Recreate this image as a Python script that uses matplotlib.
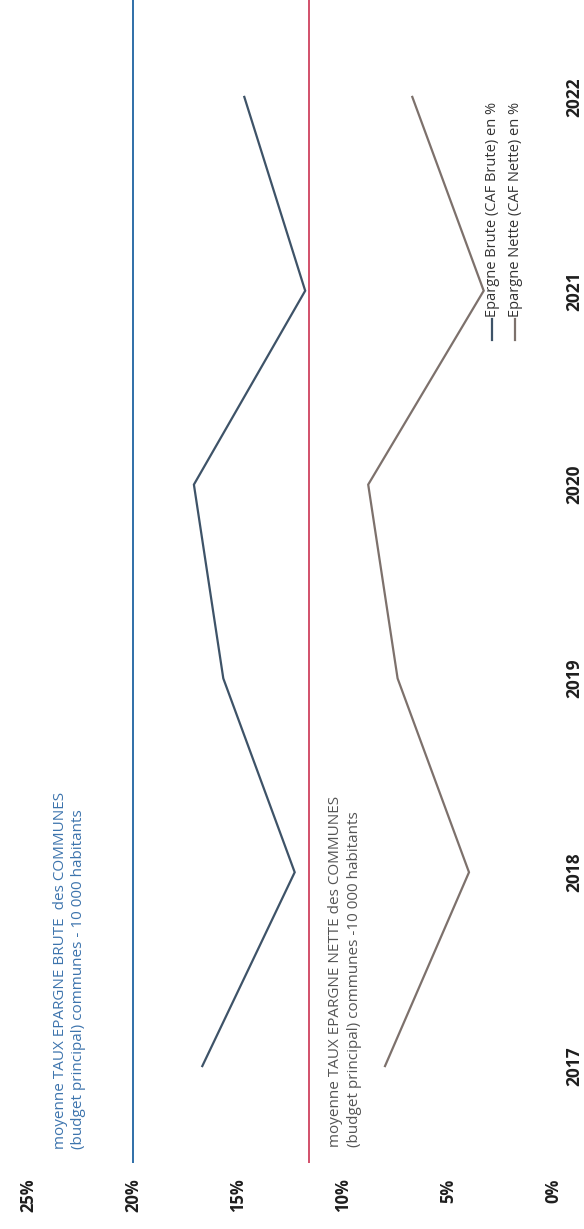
import matplotlib
matplotlib.use("Agg")
import matplotlib.pyplot as plt
from matplotlib.lines import Line2D

years = [2017, 2018, 2019, 2020, 2021, 2022]
epargne_brute = [16.7, 12.3, 15.7, 17.1, 11.8, 14.7]
epargne_nette = [8.0, 4.0, 7.4, 8.8, 3.3, 6.7]
moyenne_brute = 20.0
moyenne_nette = 11.6
value_ticks = [0, 5, 10, 15, 20, 25]
value_labels = ["0%", "5%", "10%", "15%", "20%", "25%"]

c_brute = "#3e5368"
c_nette = "#7d716c"
c_moy_brute = "#2f6fa8"
c_moy_nette = "#d2506a"

plt.rcParams['font.family'] = ['Open Sans', 'DejaVu Sans']

fig = plt.figure(figsize=(5.84, 12.29), dpi=100)
ax = fig.add_axes([28 / 584, 66 / 1229, 525 / 584, 1163 / 1229])

# chart is drawn turned a quarter turn: values run along x (reversed), years along y
ax.plot(epargne_brute, years, color=c_brute, lw=1.6, solid_joinstyle='miter')
ax.plot(epargne_nette, years, color=c_nette, lw=1.6, solid_joinstyle='miter')
ax.axvline(moyenne_brute, color=c_moy_brute, lw=1.4)
ax.axvline(moyenne_nette, color=c_moy_nette, lw=1.4)

ax.set_xlim(25, 0)
ax.set_ylim(years[0] - 0.5, years[-1] + 0.5)

ax.set_xticks(value_ticks)
ax.set_xticklabels(value_labels, rotation=90, fontsize=12, fontweight='bold',
                   color='#1e1e1e', ha='center', va='top')
ax.set_yticks(years)
ax.set_yticklabels([str(y) for y in years], rotation=90, fontsize=12.5,
                   fontweight='bold', color='#1e1e1e', va='center')
ax.yaxis.tick_right()
ax.tick_params(axis='both', length=0)
ax.tick_params(axis='x', pad=11)
ax.tick_params(axis='y', pad=9)
for s in ax.spines.values():
    s.set_visible(False)

# notes next to the average lines
ax.text(23.8, 2016.57,
        "moyenne TAUX EPARGNE BRUTE  des COMMUNES\n(budget principal) communes - 10 000 habitants",
        rotation=90, rotation_mode='anchor', ha='left', va='top',
        fontsize=11, color='#3d74ad', linespacing=1.3)
ax.text(10.7, 2016.58,
        "moyenne TAUX EPARGNE NETTE des COMMUNES\n(budget principal) communes -10 000 habitants",
        rotation=90, rotation_mode='anchor', ha='left', va='top',
        fontsize=11, color='#555555', linespacing=1.3)

# legend, turned as well
for xa, col, lab in [(0.884, c_brute, "Epargne Brute (CAF Brute) en %"),
                     (0.928, c_nette, "Epargne Nette (CAF Nette) en %")]:
    ax.add_line(Line2D([xa, xa], [0.708, 0.726], transform=ax.transAxes,
                       color=col, lw=1.6))
    ax.text(xa, 0.727, lab, transform=ax.transAxes, rotation=90,
            rotation_mode='anchor', ha='left', va='center',
            fontsize=10.5, color='#333333')

fig.savefig("out.png", dpi=100)
